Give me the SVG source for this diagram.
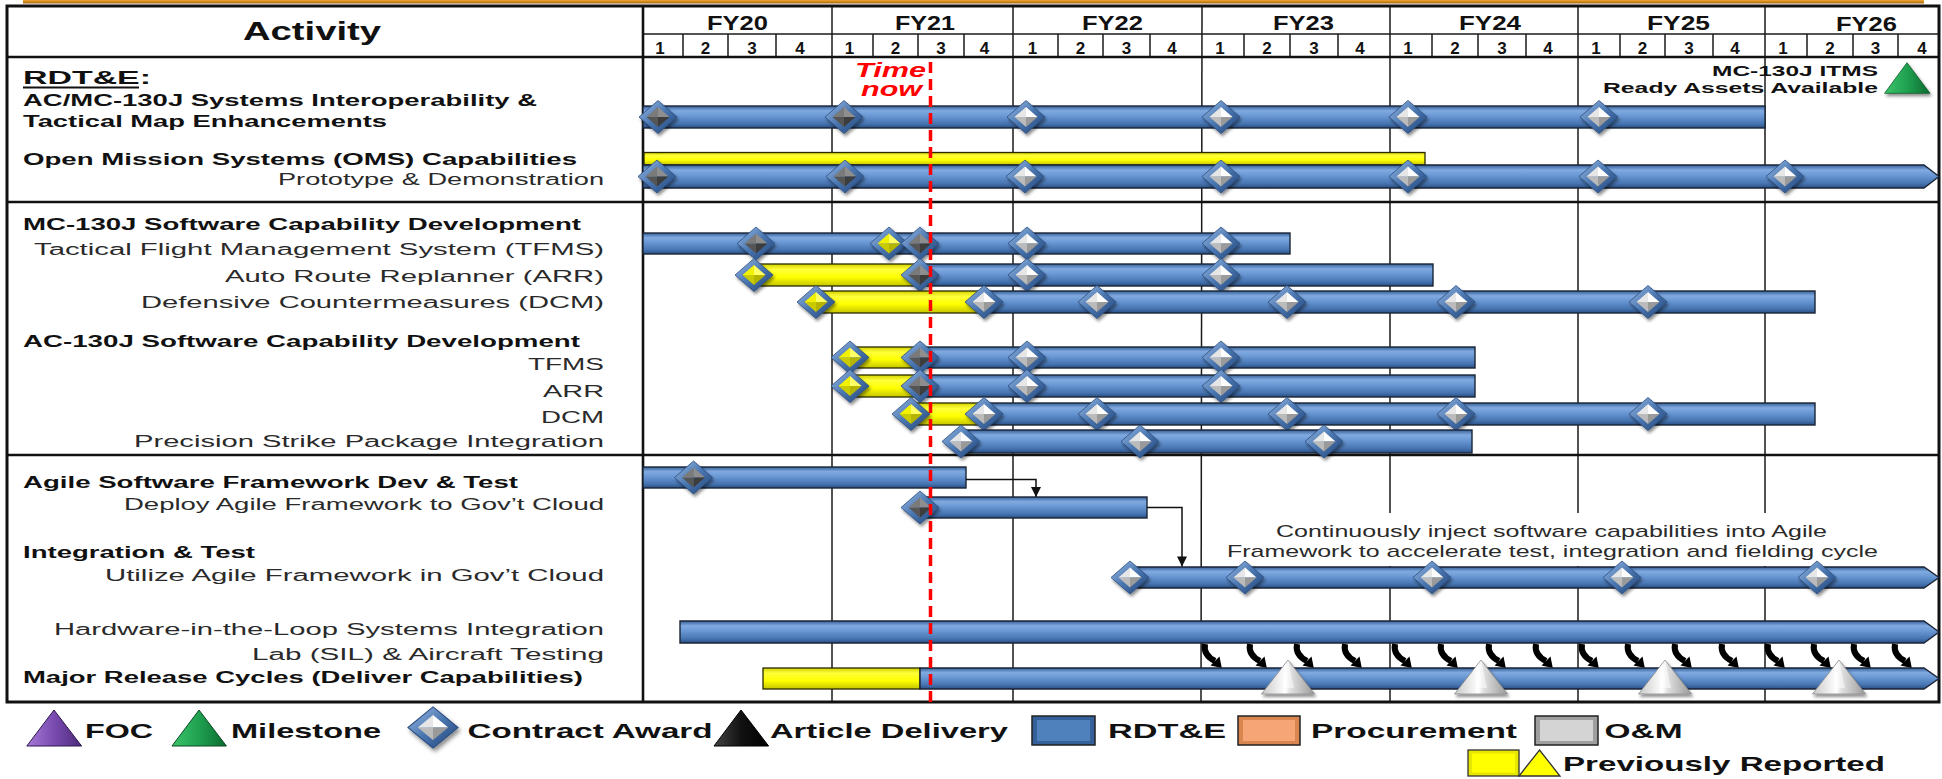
<svg xmlns="http://www.w3.org/2000/svg" xmlns:xlink="http://www.w3.org/1999/xlink" width="1942" height="779" viewBox="0 0 1942 779">
<style>
text{font-family:"Liberation Sans",Arial,Helvetica,sans-serif}
.b{font-weight:700;fill:#111}
.n{font-weight:400;fill:#2a2a2a}
.f16{font-size:16px}
.f17{font-size:17px}
.f20{font-size:20.5px}
.f21{font-size:21px}
.q{font-size:17px;font-weight:700;fill:#111;text-anchor:middle}
.grid{stroke:#1a1a1a;stroke-width:1.5;fill:none}
.thick{stroke:#111;stroke-width:2.6;fill:none}
.bb{fill:url(#gB);stroke:#1b2536;stroke-width:1.4}
.yb{fill:url(#gY);stroke:#2a2a00;stroke-width:1.3}
.con{stroke:#111;stroke-width:1.5;fill:none;marker-end:url(#ah)}
</style>
<defs>
<linearGradient id="gB" x1="0" y1="0" x2="0" y2="1">
<stop offset="0" stop-color="#355F98"/><stop offset="0.22" stop-color="#80AAE0"/><stop offset="0.45" stop-color="#6A98D4"/><stop offset="0.8" stop-color="#4775B2"/><stop offset="1" stop-color="#2A4F84"/>
</linearGradient>
<linearGradient id="gY" x1="0" y1="0" x2="0" y2="1">
<stop offset="0" stop-color="#D2D200"/><stop offset="0.25" stop-color="#FFFF3A"/><stop offset="0.6" stop-color="#FFFF00"/><stop offset="1" stop-color="#C4C400"/>
</linearGradient>
<linearGradient id="gDo" x1="0" y1="0" x2="1" y2="1">
<stop offset="0" stop-color="#9CBDE6"/><stop offset="0.5" stop-color="#4A76B0"/><stop offset="1" stop-color="#1F4275"/>
</linearGradient>
<linearGradient id="gSil" x1="0" y1="0" x2="1" y2="0">
<stop offset="0" stop-color="#C8C8C8"/><stop offset="0.45" stop-color="#FFFFFF"/><stop offset="0.55" stop-color="#E0E0E0"/><stop offset="1" stop-color="#9A9A9A"/>
</linearGradient>
<linearGradient id="gGrn" x1="0" y1="0" x2="1" y2="0">
<stop offset="0" stop-color="#3CC46A"/><stop offset="0.5" stop-color="#1FA050"/><stop offset="1" stop-color="#0B6B30"/>
</linearGradient>
<linearGradient id="gPur" x1="0" y1="0" x2="1" y2="0">
<stop offset="0" stop-color="#A77AD8"/><stop offset="0.5" stop-color="#7A4BB0"/><stop offset="1" stop-color="#4B2A7A"/>
</linearGradient>
<linearGradient id="gBlk" x1="0" y1="0" x2="1" y2="0">
<stop offset="0" stop-color="#444"/><stop offset="0.5" stop-color="#111"/><stop offset="1" stop-color="#000"/>
</linearGradient>
<linearGradient id="gOr" x1="0" y1="0" x2="0" y2="1">
<stop offset="0" stop-color="#F0A830"/><stop offset="1" stop-color="#A8650E"/>
</linearGradient>
<filter id="sh" x="-40%" y="-40%" width="180%" height="180%">
<feDropShadow dx="1.5" dy="2.5" stdDeviation="1.5" flood-color="#000" flood-opacity="0.45"/>
</filter>
<g id="dW" filter="url(#sh)">
<polygon points="0,-16.5 19,0 0,16.5 -19,0" fill="url(#gDo)" stroke="#2A4D80" stroke-width="0.8"/>
<polygon points="0,-10 11.5,0 0,0" fill="#FDFDFD"/><polygon points="11.5,0 0,10 0,0" fill="#9A9A9A"/>
<polygon points="0,10 -11.5,0 0,0" fill="#BBBBBB"/><polygon points="-11.5,0 0,-10 0,0" fill="#E6E6E6"/>
</g>
<g id="dD" filter="url(#sh)">
<polygon points="0,-16.5 19,0 0,16.5 -19,0" fill="url(#gDo)" stroke="#2A4D80" stroke-width="0.8"/>
<polygon points="0,-10 11.5,0 0,0" fill="#8E8E8E"/><polygon points="11.5,0 0,10 0,0" fill="#3C3C3C"/>
<polygon points="0,10 -11.5,0 0,0" fill="#555555"/><polygon points="-11.5,0 0,-10 0,0" fill="#7A7A7A"/>
</g>
<g id="dY" filter="url(#sh)">
<polygon points="0,-16.5 19,0 0,16.5 -19,0" fill="url(#gDo)" stroke="#2A4D80" stroke-width="0.8"/>
<polygon points="0,-10 11.5,0 0,0" fill="#FFFF66"/><polygon points="11.5,0 0,10 0,0" fill="#B5B500"/>
<polygon points="0,10 -11.5,0 0,0" fill="#CACA00"/><polygon points="-11.5,0 0,-10 0,0" fill="#F2F200"/>
</g>
<g id="tS" filter="url(#sh)">
<polygon points="0,-18 26.5,16 -26.5,16" fill="url(#gSil)" stroke="#8A8A8A" stroke-width="0.8"/>
<polygon points="0,-18 6,10 -6,10" fill="#FFFFFF" opacity="0.5"/>
</g>
<g id="ca">
<path d="M0,0 C-1.5,8 3,13.5 10,17" stroke="#000" stroke-width="6" fill="none"/>
<polygon points="14.5,12.5 16.8,24 5.5,21.5" fill="#000"/>
</g>
<marker id="ah" viewBox="0 0 10 10" refX="10" refY="5" markerWidth="11" markerHeight="10" markerUnits="userSpaceOnUse" orient="auto">
<path d="M0,0 L10,5 L0,10 z" fill="#111"/>
</marker>
</defs>

<rect x="0" y="0" width="1942" height="779" fill="#FFFFFF"/>
<rect x="23" y="0" width="1901" height="3.5" fill="url(#gOr)"/>

<g id="grid">
<line class="grid" x1="643" y1="34" x2="1939" y2="34"/>
<g class="grid">
<line x1="832" y1="6" x2="832" y2="702"/><line x1="1013" y1="6" x2="1013" y2="702"/><line x1="1202" y1="6" x2="1201" y2="702"/>
<line x1="1390" y1="6" x2="1390" y2="702"/><line x1="1578" y1="6" x2="1578" y2="702"/><line x1="1765" y1="6" x2="1765" y2="702"/>
<line x1="683" y1="34" x2="683" y2="57"/><line x1="728" y1="34" x2="728" y2="57"/><line x1="776" y1="34" x2="776" y2="57"/>
<line x1="873" y1="34" x2="873" y2="57"/><line x1="918" y1="34" x2="918" y2="57"/><line x1="964" y1="34" x2="964" y2="57"/>
<line x1="1058" y1="34" x2="1058" y2="57"/><line x1="1103" y1="34" x2="1103" y2="57"/><line x1="1150" y1="34" x2="1150" y2="57"/>
<line x1="1244" y1="34" x2="1244" y2="57"/><line x1="1290" y1="34" x2="1290" y2="57"/><line x1="1338" y1="34" x2="1338" y2="57"/>
<line x1="1432" y1="34" x2="1432" y2="57"/><line x1="1478" y1="34" x2="1478" y2="57"/><line x1="1526" y1="34" x2="1526" y2="57"/>
<line x1="1620" y1="34" x2="1620" y2="57"/><line x1="1665" y1="34" x2="1665" y2="57"/><line x1="1713" y1="34" x2="1713" y2="57"/>
<line x1="1807" y1="34" x2="1807" y2="57"/><line x1="1853" y1="34" x2="1853" y2="57"/><line x1="1898" y1="34" x2="1898" y2="57"/>
</g>
<line class="thick" x1="7" y1="57" x2="1939" y2="57"/>
<line class="thick" x1="7" y1="202" x2="1939" y2="202"/>
<line class="thick" x1="7" y1="455" x2="1939" y2="455"/>
<line class="thick" x1="643" y1="6" x2="643" y2="702"/>
<rect x="7" y="6" width="1932" height="696" fill="none" stroke="#111" stroke-width="3"/>
</g>

<g id="header">
<text class="b" x="243" y="40" font-size="26" textLength="138" lengthAdjust="spacingAndGlyphs">Activity</text>
<g class="b f20">
<text x="707" y="30" textLength="61" lengthAdjust="spacingAndGlyphs">FY20</text>
<text x="895" y="30" textLength="60" lengthAdjust="spacingAndGlyphs">FY21</text>
<text x="1082" y="30" textLength="61" lengthAdjust="spacingAndGlyphs">FY22</text>
<text x="1273" y="30" textLength="61" lengthAdjust="spacingAndGlyphs">FY23</text>
<text x="1459" y="30" textLength="62" lengthAdjust="spacingAndGlyphs">FY24</text>
<text x="1647" y="30" textLength="63" lengthAdjust="spacingAndGlyphs">FY25</text>
<text x="1836" y="30.5" textLength="61" lengthAdjust="spacingAndGlyphs">FY26</text>
</g>
<g>
<text class="q" x="660" y="53.5">1</text><text class="q" x="705.5" y="53.5">2</text><text class="q" x="752" y="53.5">3</text><text class="q" x="800" y="53.5">4</text>
<text class="q" x="849.5" y="53.5">1</text><text class="q" x="895.5" y="53.5">2</text><text class="q" x="941" y="53.5">3</text><text class="q" x="984.5" y="53.5">4</text>
<text class="q" x="1032.5" y="53.5">1</text><text class="q" x="1080.5" y="53.5">2</text><text class="q" x="1126.5" y="53.5">3</text><text class="q" x="1172" y="53.5">4</text>
<text class="q" x="1220" y="53.5">1</text><text class="q" x="1267" y="53.5">2</text><text class="q" x="1314" y="53.5">3</text><text class="q" x="1360" y="53.5">4</text>
<text class="q" x="1408" y="53.5">1</text><text class="q" x="1455" y="53.5">2</text><text class="q" x="1502" y="53.5">3</text><text class="q" x="1548" y="53.5">4</text>
<text class="q" x="1596" y="53.5">1</text><text class="q" x="1642.5" y="53.5">2</text><text class="q" x="1689" y="53.5">3</text><text class="q" x="1735" y="53.5">4</text>
<text class="q" x="1783" y="53.5">1</text><text class="q" x="1830" y="53.5">2</text><text class="q" x="1875.5" y="53.5">3</text><text class="q" x="1922" y="53.5">4</text>
</g>
</g>

<g id="labels">
<text class="b" x="23" y="84" font-size="19" textLength="128" lengthAdjust="spacingAndGlyphs">RDT&amp;E:</text>
<line x1="23" y1="87.5" x2="139" y2="87.5" stroke="#111" stroke-width="1.8"/>
<text class="b f16" x="23" y="105.5" textLength="514" lengthAdjust="spacingAndGlyphs">AC/MC-130J Systems Interoperability &amp;</text>
<text class="b f16" x="23" y="126.5" textLength="364" lengthAdjust="spacingAndGlyphs">Tactical Map Enhancements</text>
<text class="b f16" x="23" y="165" textLength="554" lengthAdjust="spacingAndGlyphs">Open Mission Systems (OMS) Capabilities</text>
<text class="n f16" x="278" y="185" textLength="326" lengthAdjust="spacingAndGlyphs">Prototype &amp; Demonstration</text>
<text class="b f16" x="23" y="230" textLength="558" lengthAdjust="spacingAndGlyphs">MC-130J Software Capability Development</text>
<text class="n f16" x="34" y="255" textLength="570" lengthAdjust="spacingAndGlyphs">Tactical Flight Management System (TFMS)</text>
<text class="n f16" x="225" y="281.5" textLength="379" lengthAdjust="spacingAndGlyphs">Auto Route Replanner (ARR)</text>
<text class="n f16" x="141" y="308" textLength="463" lengthAdjust="spacingAndGlyphs">Defensive Countermeasures (DCM)</text>
<text class="b f16" x="23" y="346.5" textLength="557" lengthAdjust="spacingAndGlyphs">AC-130J Software Capability Development</text>
<text class="n f16" x="528" y="370" textLength="76" lengthAdjust="spacingAndGlyphs">TFMS</text>
<text class="n f16" x="543" y="396.5" textLength="61" lengthAdjust="spacingAndGlyphs">ARR</text>
<text class="n f16" x="541" y="423" textLength="63" lengthAdjust="spacingAndGlyphs">DCM</text>
<text class="n f16" x="134" y="446.5" textLength="470" lengthAdjust="spacingAndGlyphs">Precision Strike Package Integration</text>
<text class="b f16" x="23" y="488" textLength="495" lengthAdjust="spacingAndGlyphs">Agile Software Framework Dev &amp; Test</text>
<text class="n f16" x="124" y="510" textLength="480" lengthAdjust="spacingAndGlyphs">Deploy Agile Framework to Gov’t Cloud</text>
<text class="b f16" x="23" y="558" textLength="232" lengthAdjust="spacingAndGlyphs">Integration &amp; Test</text>
<text class="n f16" x="105" y="580.5" textLength="499" lengthAdjust="spacingAndGlyphs">Utilize Agile Framework in Gov’t Cloud</text>
<text class="n f16" x="54" y="635" textLength="550" lengthAdjust="spacingAndGlyphs">Hardware-in-the-Loop Systems Integration</text>
<text class="n f16" x="252" y="660" textLength="352" lengthAdjust="spacingAndGlyphs">Lab (SIL) &amp; Aircraft Testing</text>
<text class="b f16" x="23" y="683" textLength="560" lengthAdjust="spacingAndGlyphs">Major Release Cycles (Deliver Capabilities)</text>
</g>

<g id="note-box">
<rect x="1220" y="513" width="680" height="53" fill="#FFFFFF"/>
<text class="n f17" x="1276" y="537.3" textLength="551" lengthAdjust="spacingAndGlyphs">Continuously inject software capabilities into Agile</text>
<text class="n f17" x="1227" y="557.3" textLength="651" lengthAdjust="spacingAndGlyphs">Framework to accelerate test, integration and fielding cycle</text>
</g>

<g id="milestone-itms">
<text class="b" x="1712" y="75.5" font-size="14.5" textLength="166" lengthAdjust="spacingAndGlyphs">MC-130J ITMS</text>
<text class="b" x="1603" y="92.5" font-size="14.5" textLength="275" lengthAdjust="spacingAndGlyphs">Ready Assets Available</text>
<polygon points="1907,62.7 1930,93.3 1884.6,93.3" fill="url(#gGrn)" stroke="#0B5A28" stroke-width="0.8" filter="url(#sh)"/>
</g>

<g id="row-acmc">
<rect class="bb" x="643" y="106" width="1122" height="22"/>
<use href="#dD" x="658" y="117"/><use href="#dD" x="844" y="117"/><use href="#dW" x="1026" y="117"/>
<use href="#dW" x="1221" y="117"/><use href="#dW" x="1408" y="117"/><use href="#dW" x="1599" y="117"/>
</g>
<g id="row-oms">
<rect class="yb" x="644" y="152.5" width="781" height="12.5"/>
<polygon class="bb" points="643,165 1924,165 1939,176.5 1924,188 643,188"/>
<use href="#dD" x="657" y="176.5"/><use href="#dD" x="845" y="176.5"/><use href="#dW" x="1025" y="176.5"/>
<use href="#dW" x="1221" y="176.5"/><use href="#dW" x="1408" y="176.5"/><use href="#dW" x="1598" y="176.5"/><use href="#dW" x="1785" y="176.5"/>
</g>
<g id="row-mc-tfms">
<rect class="bb" x="643" y="233" width="647" height="21"/>
<use href="#dD" x="756" y="243.5"/><use href="#dY" x="889" y="243.5"/><use href="#dD" x="920" y="243.5"/>
<use href="#dW" x="1027" y="243.5"/><use href="#dW" x="1221" y="243.5"/>
</g>
<g id="row-mc-arr">
<rect class="yb" x="754" y="264" width="166" height="22"/>
<rect class="bb" x="920" y="264" width="513" height="22"/>
<use href="#dY" x="754" y="275"/><use href="#dD" x="920" y="275"/><use href="#dW" x="1027" y="275"/><use href="#dW" x="1221" y="275"/>
</g>
<g id="row-mc-dcm">
<rect class="yb" x="816" y="291" width="168" height="22"/>
<rect class="bb" x="984" y="291" width="831" height="22"/>
<use href="#dY" x="816" y="302"/><use href="#dW" x="984" y="302"/><use href="#dW" x="1097" y="302"/>
<use href="#dW" x="1287" y="302"/><use href="#dW" x="1456" y="302"/><use href="#dW" x="1648" y="302"/>
</g>
<g id="row-ac-tfms">
<rect class="yb" x="850" y="347" width="70" height="21"/>
<rect class="bb" x="920" y="347" width="555" height="21"/>
<use href="#dY" x="850" y="357.5"/><use href="#dD" x="920" y="357.5"/><use href="#dW" x="1027" y="357.5"/><use href="#dW" x="1221" y="357.5"/>
</g>
<g id="row-ac-arr">
<rect class="yb" x="850" y="375" width="70" height="22"/>
<rect class="bb" x="920" y="375" width="555" height="22"/>
<use href="#dY" x="850" y="386"/><use href="#dD" x="920" y="386"/><use href="#dW" x="1027" y="386"/><use href="#dW" x="1221" y="386"/>
</g>
<g id="row-ac-dcm">
<rect class="yb" x="911" y="403" width="73" height="22"/>
<rect class="bb" x="984" y="403" width="831" height="22"/>
<use href="#dY" x="911" y="414"/><use href="#dW" x="984" y="414"/><use href="#dW" x="1097" y="414"/>
<use href="#dW" x="1287" y="414"/><use href="#dW" x="1456" y="414"/><use href="#dW" x="1648" y="414"/>
</g>
<g id="row-psp">
<rect class="bb" x="961" y="430" width="511" height="23"/>
<use href="#dW" x="961" y="441.5"/><use href="#dW" x="1140" y="441.5"/><use href="#dW" x="1324" y="441.5"/>
</g>
<g id="row-agile">
<rect class="bb" x="643" y="467" width="323" height="21"/>
<use href="#dD" x="693.5" y="477.5"/>
</g>
<g id="row-deploy">
<rect class="bb" x="920" y="497" width="227" height="21"/>
<use href="#dD" x="920" y="507.5"/>
</g>
<g id="row-utilize">
<polygon class="bb" points="1130,567 1924,567 1939,577.5 1924,588 1130,588"/>
<use href="#dW" x="1130" y="577.5"/><use href="#dW" x="1245" y="577.5"/><use href="#dW" x="1432" y="577.5"/>
<use href="#dW" x="1622" y="577.5"/><use href="#dW" x="1817" y="577.5"/>
</g>
<g id="row-hil">
<polygon class="bb" points="680,621 1924,621 1939,632 1924,643 680,643"/>
</g>
<g id="release-arrows">
<use href="#ca" x="1205" y="644"/><use href="#ca" x="1250" y="644"/><use href="#ca" x="1297" y="644"/><use href="#ca" x="1345" y="644"/>
<use href="#ca" x="1395" y="644"/><use href="#ca" x="1441" y="644"/><use href="#ca" x="1489" y="644"/><use href="#ca" x="1536" y="644"/>
<use href="#ca" x="1582" y="644"/><use href="#ca" x="1628" y="644"/><use href="#ca" x="1675" y="644"/><use href="#ca" x="1722" y="644"/>
<use href="#ca" x="1768" y="644"/><use href="#ca" x="1814" y="644"/><use href="#ca" x="1854" y="644"/><use href="#ca" x="1895" y="644"/>
</g>
<g id="row-release">
<rect class="yb" x="763" y="668" width="157" height="21"/>
<polygon class="bb" points="920,668 1924,668 1939,678.5 1924,689 920,689"/>
<use href="#tS" x="1288" y="678"/><use href="#tS" x="1481" y="678"/><use href="#tS" x="1665" y="678"/><use href="#tS" x="1839" y="678"/>
</g>

<g id="connectors">
<path class="con" d="M966,479.5 H1036 V497"/>
<path class="con" d="M1147,507.5 H1182 V566.5"/>
</g>

<g id="time-now">
<line x1="930.5" y1="62" x2="930.5" y2="702" stroke="#FF0000" stroke-width="3.5" stroke-dasharray="11 6"/>
<text x="855" y="77" font-size="20" font-weight="700" font-style="italic" fill="#FF0000" textLength="71" lengthAdjust="spacingAndGlyphs">Time</text>
<text x="861" y="95.5" font-size="20" font-weight="700" font-style="italic" fill="#FF0000" textLength="61" lengthAdjust="spacingAndGlyphs">now</text>
</g>

<g id="legend">
<polygon points="54,710 81.6,746 26.8,746" fill="url(#gPur)" stroke="#2E1850" stroke-width="1"/>
<text class="b f21" x="85" y="738" textLength="68" lengthAdjust="spacingAndGlyphs">FOC</text>
<polygon points="199,710 226.4,746 172,746" fill="url(#gGrn)" stroke="#0B4A22" stroke-width="1"/>
<text class="b f21" x="231" y="738" textLength="150" lengthAdjust="spacingAndGlyphs">Milestone</text>
<use href="#dW" transform="translate(433,727.5) scale(1.32,1.25)"/>
<text class="b f21" x="467.5" y="738" textLength="245" lengthAdjust="spacingAndGlyphs">Contract Award</text>
<polygon points="741,710 768.6,746 714,746" fill="url(#gBlk)" stroke="#000" stroke-width="1"/>
<text class="b f21" x="770" y="738" textLength="238" lengthAdjust="spacingAndGlyphs">Article Delivery</text>
<rect x="1032" y="716" width="63" height="29" fill="#35609A" stroke="#222" stroke-width="1.5"/>
<rect x="1037" y="720" width="53" height="21" fill="#4F81BD"/>
<text class="b f21" x="1108" y="738" textLength="118" lengthAdjust="spacingAndGlyphs">RDT&amp;E</text>
<rect x="1238" y="716" width="62" height="29" fill="#D98550" stroke="#222" stroke-width="1.5"/>
<rect x="1243" y="720" width="52" height="21" fill="#F6A577"/>
<text class="b f21" x="1311" y="738" textLength="206" lengthAdjust="spacingAndGlyphs">Procurement</text>
<rect x="1535" y="716" width="63" height="29" fill="#9E9E9E" stroke="#222" stroke-width="1.5"/>
<rect x="1540" y="720" width="53" height="21" fill="#D4D4D4"/>
<text class="b f21" x="1604.5" y="738" textLength="78" lengthAdjust="spacingAndGlyphs">O&amp;M</text>
<rect x="1468" y="750" width="51" height="26" fill="#E6E600" stroke="#333" stroke-width="1.3"/>
<rect x="1472" y="753.5" width="43" height="19" fill="#FFFF00"/>
<polygon points="1539.5,750 1560,776 1519,776" fill="#FFFF00" stroke="#333" stroke-width="1.3"/>
<text class="b f21" x="1563" y="770.5" textLength="322" lengthAdjust="spacingAndGlyphs">Previously Reported</text>
</g>
</svg>
